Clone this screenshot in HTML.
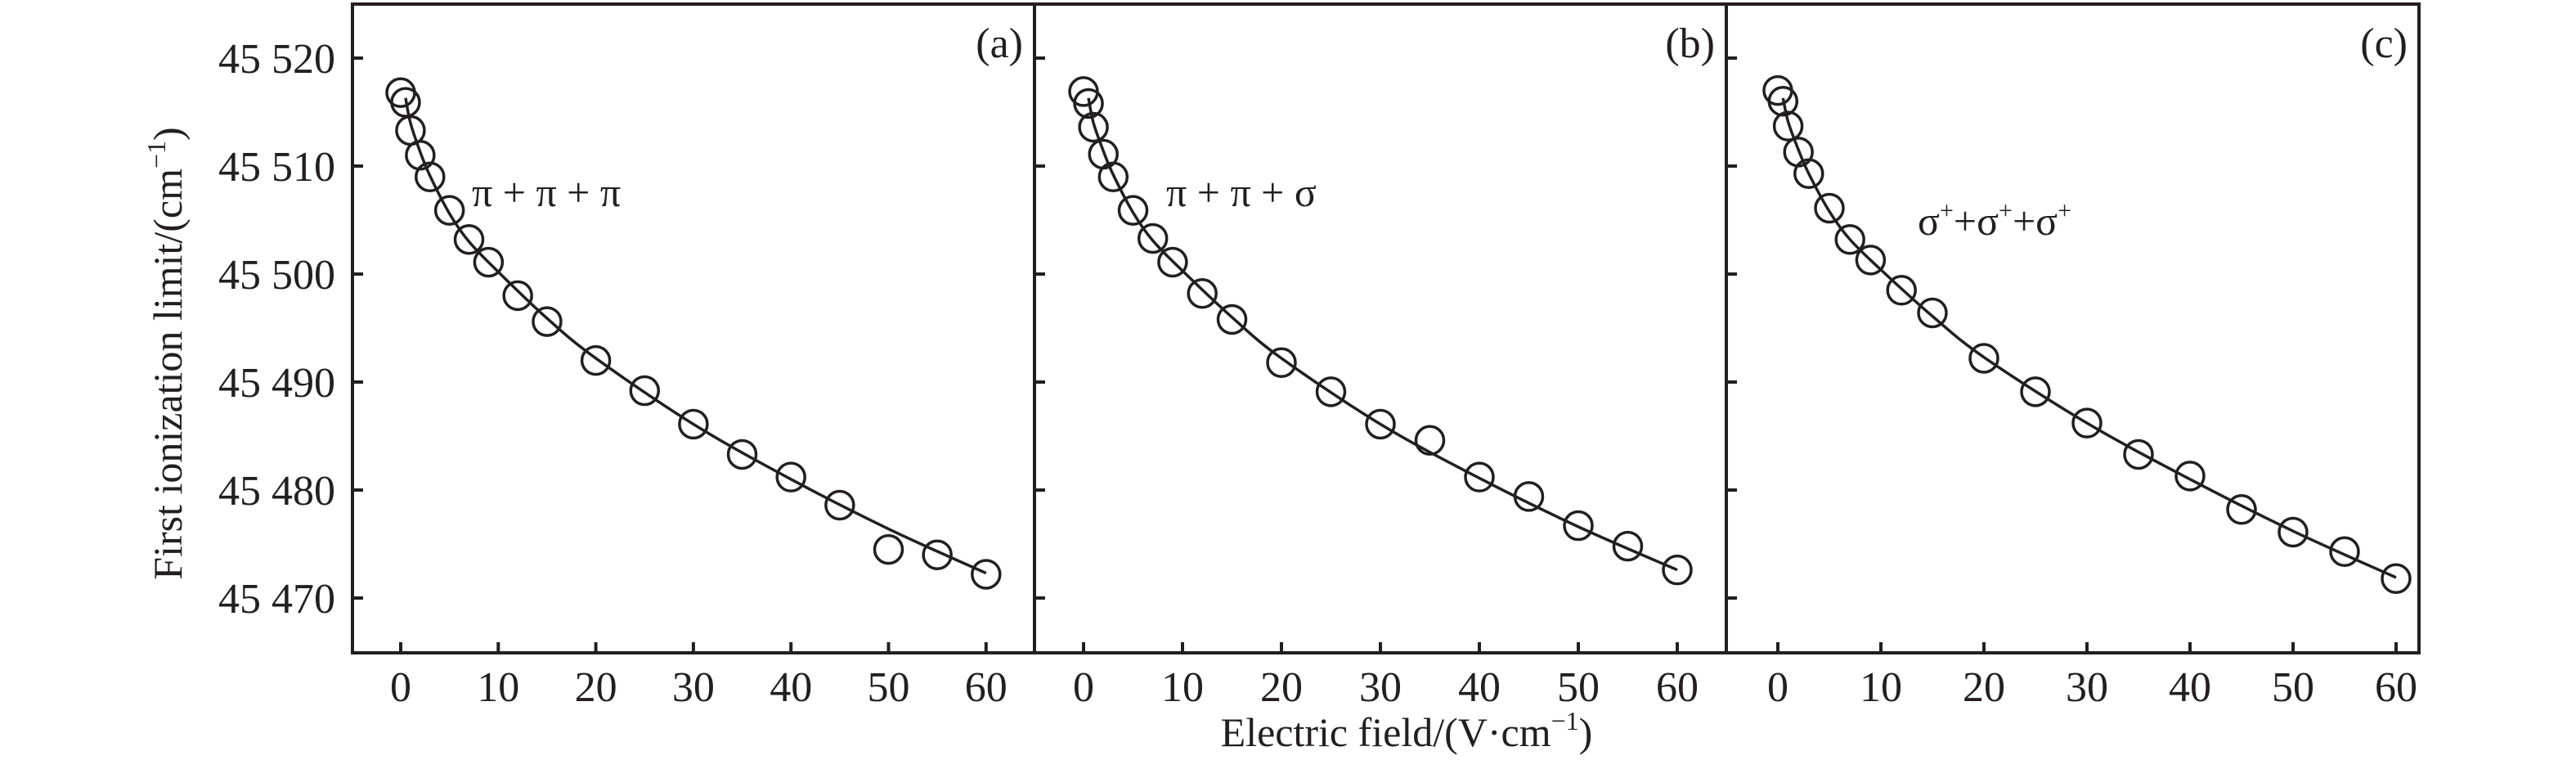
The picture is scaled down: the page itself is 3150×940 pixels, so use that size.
<!DOCTYPE html>
<html><head><meta charset="utf-8"><style>
html,body{margin:0;padding:0;background:#fff;}
svg{display:block;font-family:"Liberation Serif",serif;}
</style></head><body>
<svg id="chart" width="3150" height="940" viewBox="0 0 3150 940" xmlns="http://www.w3.org/2000/svg">
<text x="0" y="0" transform="translate(222,432) rotate(-90)" text-anchor="middle" font-size="50" fill="#231f20">First ionization limit/(cm<tspan font-size="32" dy="-20">−1</tspan><tspan dy="20">)</tspan></text>
<text x="1720" y="912" text-anchor="middle" font-size="50" fill="#231f20">Electric field/(V·cm<tspan font-size="32" dy="-20">−1</tspan><tspan dy="20">)</tspan></text>
</svg>
<script>
const xVals = [0, 0.5, 1, 2, 3, 5, 7, 9, 12, 15, 20, 25, 30, 35, 40, 45, 50, 55, 60];
const seriesA = [45516.8, 45515.9, 45513.3, 45511.0, 45509.0, 45505.9, 45503.2, 45501.1, 45498.0, 45495.6, 45492.0, 45489.2, 45486.1, 45483.3, 45481.2, 45478.6, 45474.5, 45474.0, 45472.2];
const seriesB = [45516.9, 45515.8, 45513.6, 45511.1, 45509.0, 45505.9, 45503.3, 45501.1, 45498.2, 45495.8, 45491.8, 45489.1, 45486.1, 45484.6, 45481.2, 45479.4, 45476.7, 45474.8, 45472.6];
const seriesC = [45517.0, 45516.0, 45513.7, 45511.3, 45509.3, 45506.1, 45503.2, 45501.3, 45498.5, 45496.4, 45492.2, 45489.1, 45486.2, 45483.3, 45481.3, 45478.2, 45476.1, 45474.3, 45471.8];
const fitX = [0.5, 1, 2, 3, 5, 7, 10, 15, 20, 30, 40, 50, 60];
const fitA = [45516.3, 45514.0, 45511.3, 45509.1, 45505.6, 45503.0, 45500.2, 45495.9, 45492.2, 45486.1, 45481.0, 45476.4, 45472.3];
const fitB = [45516.3, 45514.0, 45511.4, 45509.2, 45505.7, 45503.1, 45500.3, 45496.0, 45492.2, 45486.1, 45481.1, 45476.6, 45472.6];
const fitC = [45516.3, 45514.1, 45511.5, 45509.3, 45505.8, 45503.2, 45500.4, 45496.1, 45492.3, 45486.2, 45481.0, 45476.2, 45471.9];
const xTicks = [0, 10, 20, 30, 40, 50, 60];
const yTicks = [45470, 45480, 45490, 45500, 45510, 45520];
const yTickLabels = ["45 470", "45 480", "45 490", "45 500", "45 510", "45 520"];
const panelLabels = ["(a)", "(b)", "(c)"];

const NS = "http://www.w3.org/2000/svg";
const svg = document.getElementById("chart");
const COL = "#231f20";
const TOP = 5, BOT = 798;
function yScale(v){ return 71 + (45520 - v) * 13.2; }
function mk(tag, attrs, parent){ const e = document.createElementNS(NS, tag); for (const k in attrs) e.setAttribute(k, attrs[k]); (parent||svg).appendChild(e); return e; }

const panels = [
  {left:431, right:1265, x0:490, unit:11.93, data:seriesA, fit:fitA, name:"a"},
  {left:1265, right:2111, x0:1325, unit:12.1, data:seriesB, fit:fitB, name:"b"},
  {left:2111, right:2958, x0:2174, unit:12.6, data:seriesC, fit:fitC, name:"c"}
];

panels.forEach((p, pi) => {
  const g = mk("g", {});
  
  
  const xs = v => p.x0 + v * p.unit;
  const frame = mk("rect", {x:p.left, y:TOP, width:p.right-p.left, height:BOT-TOP, fill:"none", stroke:COL, "stroke-width":4}, g);
  
  
  xTicks.forEach(t => {
    const tk = mk("line", {x1:xs(t), x2:xs(t), y1:BOT, y2:BOT-13, stroke:COL, "stroke-width":4}, g);
    
    
    const lb = mk("text", {x:xs(t), y:857, "text-anchor":"middle", "font-size":52, fill:COL}, g);
    
    
    lb.textContent = t;
  });
  yTicks.forEach((t, i) => {
    const tk = mk("line", {x1:p.left, x2:p.left+13, y1:yScale(t), y2:yScale(t), stroke:COL, "stroke-width":4}, g);
    
    
    if (pi === 0) {
      const lb = mk("text", {x:410, y:yScale(t)+18, "text-anchor":"end", "font-size":52, fill:COL}, g);
      
      
      lb.textContent = yTickLabels[i];
    }
  });
  const pts = p.fit.map((v, i) => [xs(fitX[i]), yScale(v)]);
  let d = "M" + pts[0][0] + "," + pts[0][1];
  for (let i = 0; i < pts.length - 1; i++) {
    const p0 = pts[Math.max(0, i-1)], p1 = pts[i], p2 = pts[i+1], p3 = pts[Math.min(pts.length-1, i+2)];
    const c1 = [p1[0] + (p2[0]-p0[0])/6, p1[1] + (p2[1]-p0[1])/6];
    const c2 = [p2[0] - (p3[0]-p1[0])/6, p2[1] - (p3[1]-p1[1])/6];
    d += " C" + c1[0] + "," + c1[1] + " " + c2[0] + "," + c2[1] + " " + p2[0] + "," + p2[1];
  }
  const fl = mk("path", {d:d, fill:"none", stroke:COL, "stroke-width":3.5}, g);
  
  
  p.data.forEach((v, i) => {
    const c = mk("circle", {cx:xs(xVals[i]), cy:yScale(v), r:17, fill:"none", stroke:COL, "stroke-width":3.5}, g);
    
    
  });
  const pl = mk("text", {x:p.right-14, y:70, "text-anchor":"end", "font-size":52, fill:COL}, g);
  
  
  pl.textContent = panelLabels[pi];
});

const ann = [
  {x:577, y:252, t:"π + π + π", n:"a"},
  {x:1426, y:252, t:"π + π + σ", n:"b"}
];
ann.forEach(a => {
  const e = mk("text", {x:a.x, y:a.y, "font-size":50, fill:COL});
  
  
  e.textContent = a.t;
});
const ac = mk("text", {x:2345, y:287, "font-size":50, fill:COL});


ac.innerHTML = 'σ<tspan font-size="30" dy="-20">+</tspan><tspan dy="20">+σ</tspan><tspan font-size="30" dy="-20">+</tspan><tspan dy="20">+σ</tspan><tspan font-size="30" dy="-20">+</tspan>';
</script>
</body></html>
